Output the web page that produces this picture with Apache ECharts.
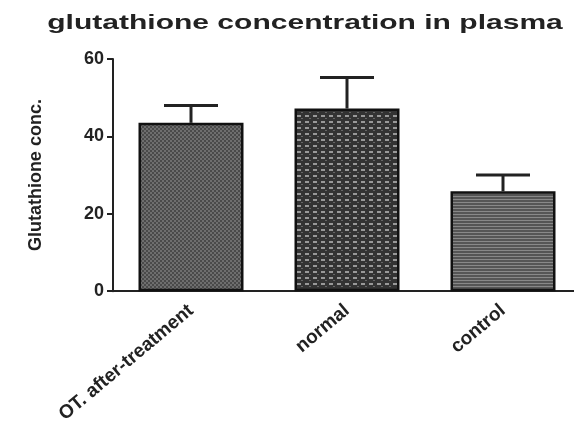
<!DOCTYPE html>
<html>
<head>
<meta charset="utf-8">
<script src="https://cdn.jsdelivr.net/npm/echarts@6/dist/echarts.min.js"></script>
<style>
html,body{margin:0;padding:0;background:#fff;overflow:hidden;}
#chart{width:581px;height:426px;}
</style>
</head>
<body>
<div id="chart"></div>
<script>
var categories = ['OT. after-treatment', 'normal', 'control'];
var means = [43.5, 47.2, 25.8];
var errors = [4.5, 8.0, 4.2];
var yTicks = [0, 20, 40, 60];
var titleText = 'glutathione concentration in plasma';
var yName = 'Glutathione conc.';

function makePattern(w, h, draw) {
  var c = document.createElement('canvas');
  c.width = w; c.height = h;
  var ctx = c.getContext('2d');
  draw(ctx, w, h);
  return { image: c, repeat: 'repeat' };
}
var pat1 = makePattern(4, 4, function (ctx, w, h) {
  ctx.fillStyle = '#6e6e6e'; ctx.fillRect(0, 0, w, h);
  ctx.fillStyle = '#4a4a4a';
  ctx.fillRect(0, 0, 2, 2); ctx.fillRect(2, 2, 2, 2);
});
var pat2 = makePattern(8, 6, function (ctx, w, h) {
  ctx.fillStyle = '#333333'; ctx.fillRect(0, 0, w, h);
  ctx.fillStyle = '#999999';
  ctx.fillRect(1, 1, 4, 2);
  ctx.fillStyle = '#666666';
  ctx.fillRect(5, 4, 2, 1);
});
var pat3 = makePattern(4, 3, function (ctx, w, h) {
  ctx.fillStyle = '#555555'; ctx.fillRect(0, 0, w, h);
  ctx.fillStyle = '#888888'; ctx.fillRect(0, 1, w, 1);
});
var patterns = [pat1, pat2, pat3];

var chart = echarts.init(document.getElementById('chart'));
var option = {
  animation: false,
  backgroundColor: '#fff',
  graphic: [{
    type: 'text',
    x: 305, y: 23,
    scaleX: 1.43,
    style: {
      text: titleText,
      font: 'bold 21px "Liberation Sans", Arial, sans-serif',
      fill: '#222',
      align: 'center',
      verticalAlign: 'middle'
    }
  }],
  grid: { left: 113, right: 0, top: 59, height: 233, containLabel: false },
  xAxis: {
    type: 'category',
    data: categories,
    axisLine: { lineStyle: { color: '#222', width: 2 } },
    axisTick: { alignWithLabel: true, length: 6, lineStyle: { color: '#222', width: 2 } },
    axisLabel: {
      rotate: 40, margin: 17, interval: 0,
      fontFamily: '"Liberation Sans", Arial, sans-serif',
      fontWeight: 'bold', fontSize: 19, color: '#222'
    }
  },
  yAxis: {
    type: 'value',
    min: yTicks[0], max: yTicks[yTicks.length - 1], interval: 20,
    name: yName,
    nameLocation: 'middle',
    nameGap: 68,
    nameTextStyle: {
      fontFamily: '"Liberation Sans", Arial, sans-serif',
      fontWeight: 'bold', fontSize: 18, color: '#222'
    },
    splitLine: { show: false },
    axisLine: { show: true, lineStyle: { color: '#222', width: 2 } },
    axisTick: { show: true, length: 6, lineStyle: { color: '#222', width: 2 } },
    axisLabel: {
      margin: 9,
      fontFamily: '"Liberation Sans", Arial, sans-serif',
      fontWeight: 'bold', fontSize: 18, color: '#222'
    }
  },
  series: [{
    type: 'bar',
    barWidth: 105,
    data: means.map(function (v, i) {
      return { value: v, itemStyle: { color: patterns[i], borderColor: '#111', borderWidth: 2.5 } };
    }),
    z: 2
  }, {
    type: 'custom',
    z: 3,
    data: means.map(function (v, i) { return [i, v, errors[i]]; }),
    renderItem: function (params, api) {
      var i = api.value(0);
      var base = api.coord([i, api.value(1)]);
      var top = api.coord([i, api.value(1) + api.value(2)]);
      var half = 27;
      return {
        type: 'group',
        children: [{
          type: 'line',
          shape: { x1: base[0], y1: base[1], x2: top[0], y2: top[1] },
          style: { stroke: '#222', lineWidth: 3 }
        }, {
          type: 'line',
          shape: { x1: top[0] - half, y1: top[1], x2: top[0] + half, y2: top[1] },
          style: { stroke: '#222', lineWidth: 3 }
        }]
      };
    }
  }]
};
chart.setOption(option);
</script>
</body>
</html>
